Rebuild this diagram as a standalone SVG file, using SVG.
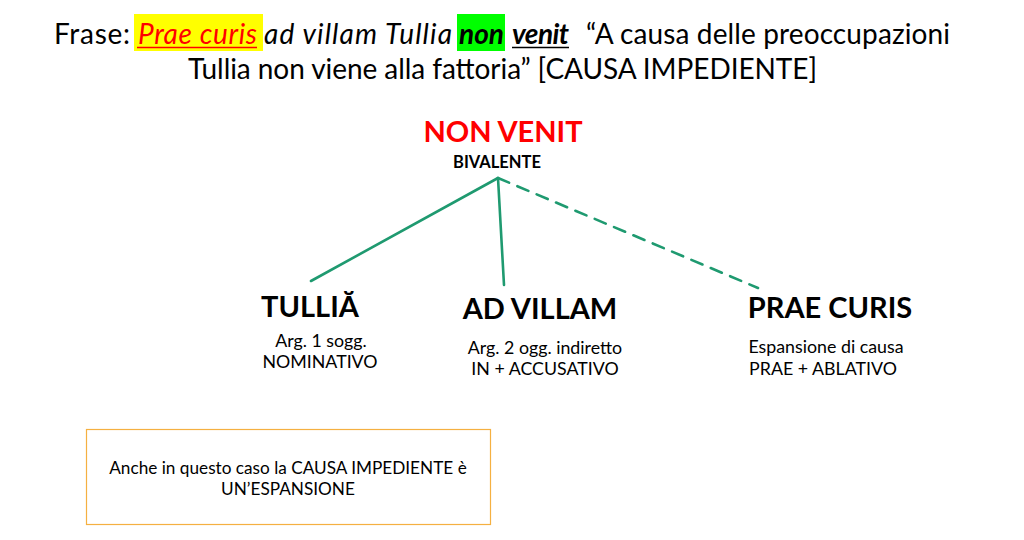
<svg xmlns="http://www.w3.org/2000/svg" width="1024" height="540" viewBox="0 0 1024 540">
<style>
text{font-family:Lato,"Open Sans","Liberation Sans",sans-serif;fill:#000}
.title{font-size:28px}
.it{font-style:italic}
.head{font-size:29px;font-weight:bold;text-anchor:middle}
.sub{font-size:17.8px;text-anchor:middle}
.conn{stroke:#1f9a70;stroke-width:2.6;fill:none;stroke-linecap:round}
</style>
<rect width="1024" height="540" fill="#fff"/>
<g id="title">
<rect x="134" y="14" width="129" height="37" fill="#ffff00"/>
<rect x="457" y="14" width="48" height="37" fill="#00ff00"/>
<text class="title" x="54" y="44" textLength="76">Frase:</text>
<text class="title it" x="138" y="44" textLength="119" style="fill:#ff0000">Prae curis</text>
<text class="title it" x="264" y="44" textLength="188">ad villam Tullia</text>
<text class="title it" x="459" y="44" textLength="45" style="font-weight:bold">non</text>
<text class="title it" x="512" y="44" textLength="57" style="font-weight:bold">venit</text>
<text class="title" x="586" y="44" textLength="364">“A causa delle preoccupazioni</text>
<text class="title" x="188" y="79" textLength="629">Tullia non viene alla fattoria” [CAUSA IMPEDIENTE]</text>
<line x1="137" y1="47.5" x2="257" y2="47.5" stroke="#ff0000" stroke-width="1.4"/>
<line x1="512" y1="47.5" x2="569" y2="47.5" stroke="#000" stroke-width="1.4"/>
</g>
<g id="connectors">
<line class="conn" x1="498" y1="178" x2="311" y2="281"/>
<line class="conn" x1="498" y1="178" x2="504" y2="285"/>
<line class="conn" x1="498" y1="178" x2="758" y2="288" stroke-dasharray="12,9"/>
</g>
<g id="node-nonvenit">
<text class="head" x="503" y="142" style="fill:#ff0000">NON VENIT</text>
<text x="497" y="168" font-size="16.5" font-weight="bold" text-anchor="middle">BIVALENTE</text>
</g>
<g id="node-tullia">
<text class="head" x="310" y="317">TULLIĂ</text>
<text class="sub" x="321" y="347">Arg. 1 sogg.</text>
<text class="sub" x="320" y="368">NOMINATIVO</text>
</g>
<g id="node-advillam">
<text class="head" x="540" y="319">AD VILLAM</text>
<text class="sub" x="545" y="354">Arg. 2 ogg. indiretto</text>
<text class="sub" x="545" y="375">IN + ACCUSATIVO</text>
</g>
<g id="node-praecuris">
<text class="head" x="830" y="318">PRAE CURIS</text>
<text class="sub" x="826" y="353">Espansione di causa</text>
<text class="sub" x="823" y="375">PRAE + ABLATIVO</text>
</g>
<g id="note">
<rect x="86.5" y="429.5" width="404" height="95" fill="#fff" stroke="#f5b041" stroke-width="1.2"/>
<text x="288" y="474" font-size="17.2" text-anchor="middle">Anche in questo caso la CAUSA IMPEDIENTE è</text>
<text x="288" y="495" font-size="17.2" text-anchor="middle">UN’ESPANSIONE</text>
</g>
</svg>
